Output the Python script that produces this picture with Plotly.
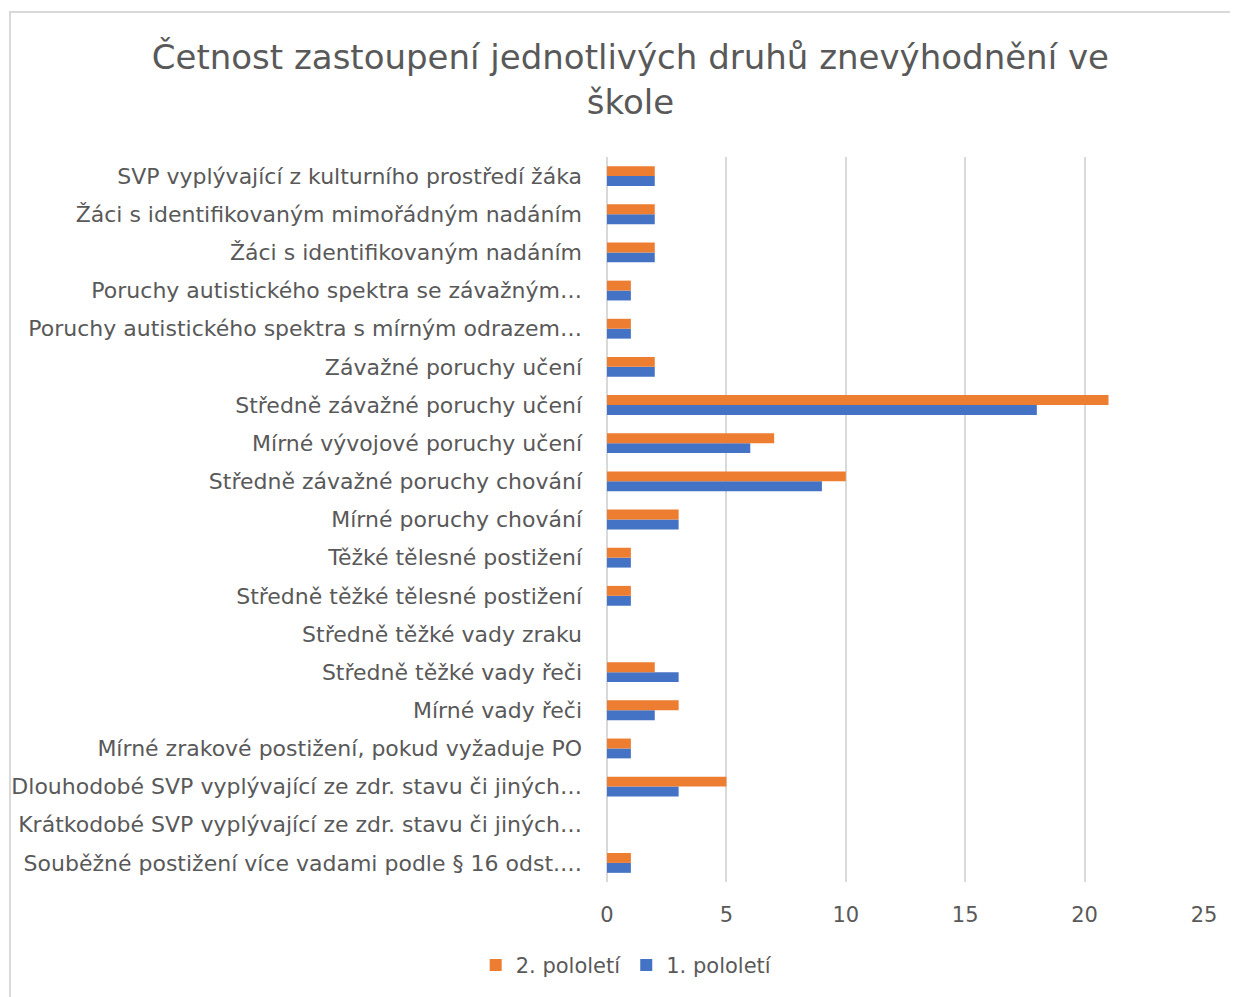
import plotly.graph_objects as go

# categories listed bottom -> top (as drawn on the y axis)
categories = [
    "Souběžné postižení více vadami podle § 16 odst.…",
    "Krátkodobé SVP vyplývající ze zdr. stavu či jiných…",
    "Dlouhodobé SVP vyplývající ze zdr. stavu či jiných…",
    "Mírné zrakové postižení, pokud vyžaduje PO",
    "Mírné vady řeči",
    "Středně těžké vady řeči",
    "Středně těžké vady zraku",
    "Středně těžké tělesné postižení",
    "Těžké tělesné postižení",
    "Mírné poruchy chování",
    "Středně závažné poruchy chování",
    "Mírné vývojové poruchy učení",
    "Středně závažné poruchy učení",
    "Závažné poruchy učení",
    "Poruchy autistického spektra s mírným odrazem…",
    "Poruchy autistického spektra se závažným…",
    "Žáci s identifikovaným nadáním",
    "Žáci s identifikovaným mimořádným nadáním",
    "SVP vyplývající z kulturního prostředí žáka",
]
pololeti_1 = [1, 0, 3, 1, 2, 3, 0, 1, 1, 3, 9, 6, 18, 2, 1, 1, 2, 2, 2]
pololeti_2 = [1, 0, 5, 1, 3, 2, 0, 1, 1, 3, 10, 7, 21, 2, 1, 1, 2, 2, 2]
x_ticks = [0, 5, 10, 15, 20, 25]

TEXT = "#595959"
GRID = "#D9D9D9"
FONT = "DejaVu Sans"

fig = go.Figure()
fig.add_trace(go.Bar(y=categories, x=pololeti_1, name="1. pololetí", orientation="h",
                     marker=dict(color="#4472C4", line=dict(width=0))))
fig.add_trace(go.Bar(y=categories, x=pololeti_2, name="2. pololetí", orientation="h",
                     marker=dict(color="#ED7D31", line=dict(width=0))))

# page has an 8px body margin, so the figure is 8px smaller than the window
fig.update_layout(
    width=1230, height=989,
    barmode="group", bargap=0.48, bargroupgap=0,
    plot_bgcolor="white", paper_bgcolor="white",
    font=dict(family=FONT, color=TEXT, size=19),
    margin=dict(l=599, r=34, t=149, b=115),
    title=dict(text="Četnost zastoupení jednotlivých druhů znevýhodnění ve<br>škole",
               x=0.506, xref="container", xanchor="center",
               y=0.938, yref="container", yanchor="middle",
               font=dict(size=34, color=TEXT, family=FONT)),
    legend=dict(orientation="h", traceorder="reversed", x=0.503, xref="container",
                xanchor="center", y=0.032, yref="container", yanchor="middle",
                font=dict(size=21, color=TEXT), itemwidth=30),
    showlegend=True,
)
fig.update_xaxes(range=[0, 25], tickvals=x_ticks, showgrid=True, gridcolor=GRID,
                 gridwidth=2, zeroline=True, zerolinecolor=GRID, zerolinewidth=2,
                 ticklabelstandoff=18, tickfont=dict(size=21, color=TEXT),
                 automargin=False)
fig.update_yaxes(type="category", showgrid=False, ticklabelstandoff=24,
                 tickfont=dict(size=22, color=TEXT), automargin=False)

# outer chart frame
fig.add_shape(type="rect", xref="paper", yref="paper",
              x0=-1.0, x1=1.07, y0=-0.17, y1=1.2,
              line=dict(color=GRID, width=2), fillcolor="rgba(0,0,0,0)", layer="below")

fig.write_html("out.html")
